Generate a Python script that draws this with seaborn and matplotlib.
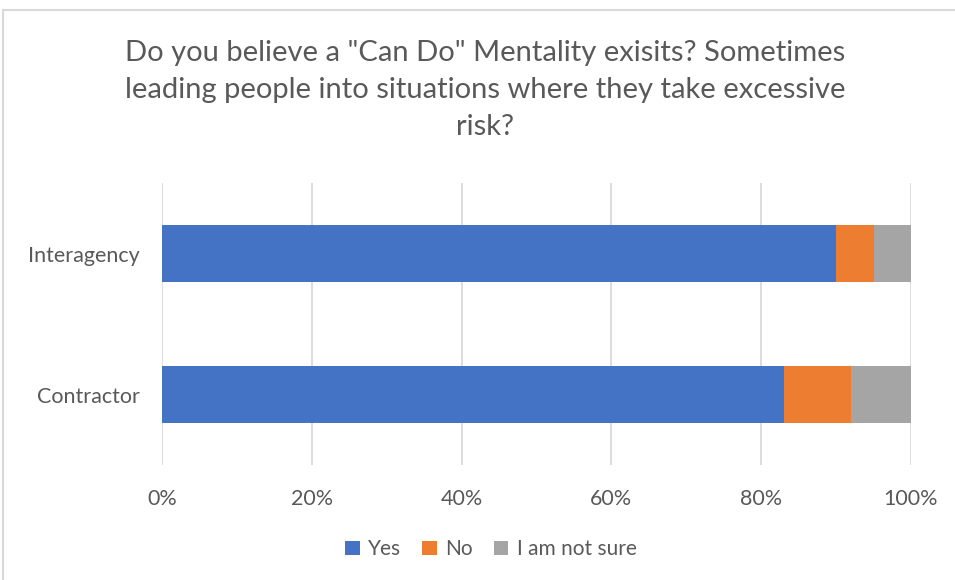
import matplotlib
matplotlib.use("Agg")
import matplotlib.pyplot as plt
import seaborn as sns
import pandas as pd
import numpy as np
from matplotlib.patches import Rectangle, Patch

sns.set_theme(style="white")
plt.rcParams['font.family'] = ['Lato', 'DejaVu Sans']

groups = ["Interagency", "Contractor"]
responses = ["Yes", "No", "I am not sure"]
yes_vals = [90, 83]
no_vals = [5, 9]
unsure_vals = [5, 8]
colors = ["#4472C4", "#ED7D31", "#A5A5A5"]
x_ticks = [0, 20, 40, 60, 80, 100]
x_tick_labels = ["0%", "20%", "40%", "60%", "80%", "100%"]

df = pd.DataFrame({"group": groups, "Yes": yes_vals, "No": no_vals,
                   "I am not sure": unsure_vals})
shares = df[responses].div(df[responses].sum(axis=1), axis=0) * 100
cum = shares.cumsum(axis=1)

fig = plt.figure(figsize=(9.55, 5.8), dpi=100)
ax = fig.add_axes([0.1696, 0.198, 0.9539 - 0.1696, 0.6845 - 0.198])

# stacked bars: draw cumulative totals from the outermost segment inward
for resp, col in reversed(list(zip(responses, colors))):
    sns.barplot(x=cum[resp].values, y=df["group"], orient="h", color=col,
                width=0.4, saturation=1, ax=ax, edgecolor="none", zorder=3)

ax.set_xlim(0, 100)
ax.set_ylim(1.5, -0.5)
ax.set_xticks(x_ticks)
ax.set_xticklabels(x_tick_labels)
ax.xaxis.grid(True, color="#D9D9D9", linewidth=1.3, zorder=0)
ax.set_axisbelow(True)
for s in ax.spines.values():
    s.set_visible(False)
ax.set_xlabel("")
ax.set_ylabel("")
ax.tick_params(axis="x", colors="#595959", labelsize=15.5, pad=17, length=0)
ax.tick_params(axis="y", colors="#595959", labelsize=15.5, pad=16, length=0)

fig.text(0.508, 0.845,
         'Do you believe a "Can Do" Mentality exisits? Sometimes\n'
         'leading people into situations where they take excessive\n'
         'risk?',
         ha="center", va="center", fontsize=21, color="#595959",
         linespacing=1.52)

handles = [Patch(facecolor=c, edgecolor="none") for c in colors]
fig.legend(handles, responses, loc="center", bbox_to_anchor=(0.514, 0.053),
           ncol=3, frameon=False, fontsize=15, handlelength=0.7,
           handleheight=0.7, handletextpad=0.4, columnspacing=1.0,
           labelcolor="#595959")

fig.patches.append(Rectangle((3 / 955, -0.01), 1.0, 1 - 10 / 580 + 0.01,
                             transform=fig.transFigure, fill=False,
                             edgecolor="#D9D9D9", linewidth=1.5))

fig.savefig("out.png", dpi=100, facecolor="white")
